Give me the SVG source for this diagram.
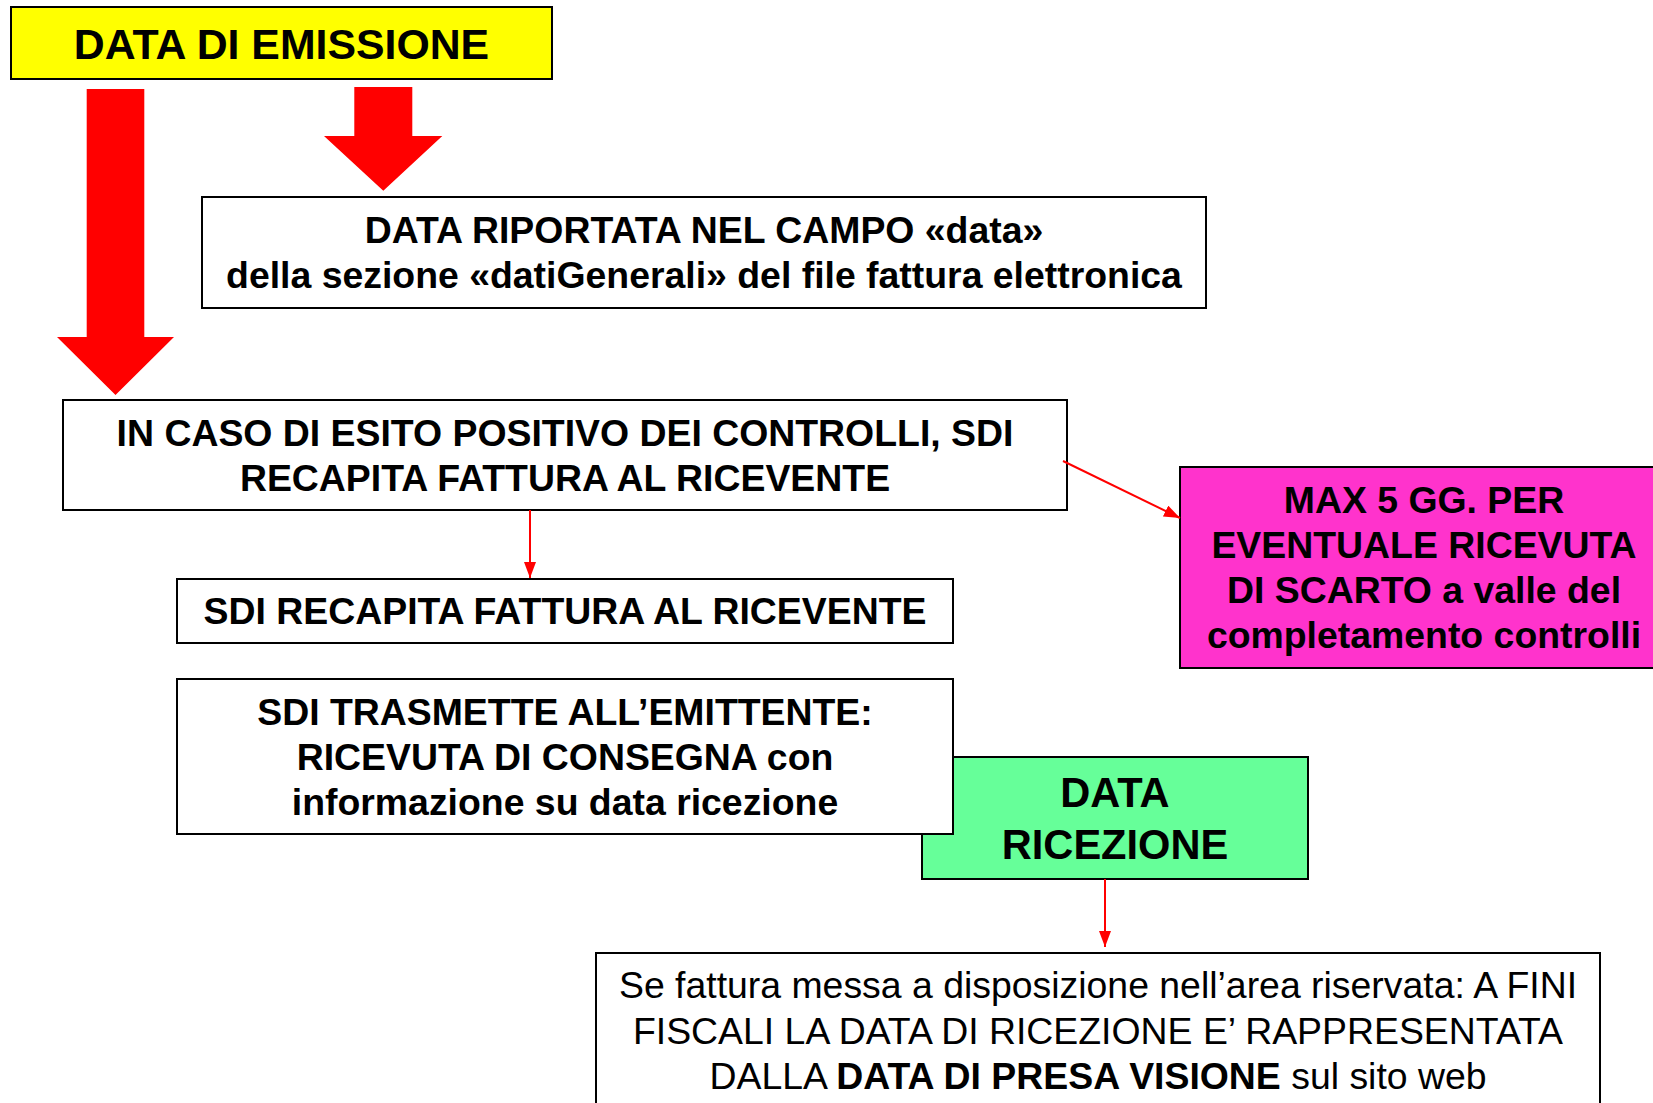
<svg xmlns="http://www.w3.org/2000/svg" width="1653" height="1103" viewBox="0 0 1653 1103">
<style>
  text { font-family: "Liberation Sans", Arial, sans-serif; fill: #000; text-anchor: middle; font-size: 37.4px; }
  .b { font-weight: bold; }
  .box { stroke: #000; stroke-width: 2; }
  .white { fill: #fff; }
  .conn { stroke: #ff0000; stroke-width: 2; fill: none; }
  .big { fill: #ff0000; }
</style>
<defs>
  <marker id="ah" markerUnits="userSpaceOnUse" markerWidth="16" markerHeight="12" refX="16" refY="6" orient="auto">
    <path d="M0,0 L16,6 L0,12 z" fill="#ff0000"/>
  </marker>
</defs>
<rect width="1653" height="1103" fill="#fff"/>

<g id="emissione">
  <rect class="box" x="11" y="7" width="541" height="72" fill="#ffff00"/>
  <text class="b" x="281.5" y="59" style="font-size:42.8px">DATA DI EMISSIONE</text>
</g>

<g id="big-arrows">
  <polygon class="big" points="86.7,89 144.3,89 144.3,337 174,337 115.5,395 57,337 86.7,337"/>
  <polygon class="big" points="354.3,87 412.3,87 412.3,136 442.3,136 383.3,190.7 324,136 354.3,136"/>
</g>

<g id="campo-data">
  <rect class="box white" x="202" y="197" width="1004" height="111"/>
  <text class="b" x="704" y="243">DATA RIPORTATA NEL CAMPO «data»</text>
  <text class="b" x="704" y="288">della sezione «datiGenerali» del file fattura elettronica</text>
</g>

<g id="esito-positivo">
  <rect class="box white" x="63" y="400" width="1004" height="110"/>
  <text class="b" x="565" y="446">IN CASO DI ESITO POSITIVO DEI CONTROLLI, SDI</text>
  <text class="b" x="565" y="491">RECAPITA FATTURA AL RICEVENTE</text>
</g>

<g id="max5gg">
  <rect class="box" x="1180" y="467" width="490" height="201" fill="#ff33cc"/>
  <text class="b" x="1424" y="513">MAX 5 GG. PER</text>
  <text class="b" x="1424" y="558">EVENTUALE RICEVUTA</text>
  <text class="b" x="1424" y="603">DI SCARTO a valle del</text>
  <text class="b" x="1424" y="648">completamento controlli</text>
</g>

<g id="recapita">
  <rect class="box white" x="177" y="579" width="776" height="64"/>
  <text class="b" x="565" y="624">SDI RECAPITA FATTURA AL RICEVENTE</text>
</g>

<g id="data-ricezione">
  <rect class="box" x="922" y="757" width="386" height="122" fill="#66ff99"/>
  <text class="b" x="1115" y="807" style="font-size:41.6px">DATA</text>
  <text class="b" x="1115" y="859" style="font-size:41.6px">RICEZIONE</text>
</g>

<g id="trasmette">
  <rect class="box white" x="177" y="679" width="776" height="155"/>
  <text class="b" x="565" y="725">SDI TRASMETTE ALL’EMITTENTE:</text>
  <text class="b" x="565" y="770">RICEVUTA DI CONSEGNA con</text>
  <text class="b" x="565" y="815">informazione su data ricezione</text>
</g>

<g id="presa-visione">
  <rect class="box white" x="596" y="953" width="1004" height="170"/>
  <text x="1098" y="998">Se fattura messa a disposizione nell’area riservata: A FINI</text>
  <text x="1098" y="1044">FISCALI LA DATA DI RICEZIONE E’ RAPPRESENTATA</text>
  <text x="1098" y="1089">DALLA <tspan class="b">DATA DI PRESA VISIONE</tspan> sul sito web</text>
</g>

<g id="connectors">
  <line class="conn" x1="530" y1="510" x2="530" y2="578" marker-end="url(#ah)"/>
  <line class="conn" x1="1063" y1="461" x2="1180" y2="518" marker-end="url(#ah)"/>
  <line class="conn" x1="1105" y1="879" x2="1105" y2="947" marker-end="url(#ah)"/>
</g>
</svg>
